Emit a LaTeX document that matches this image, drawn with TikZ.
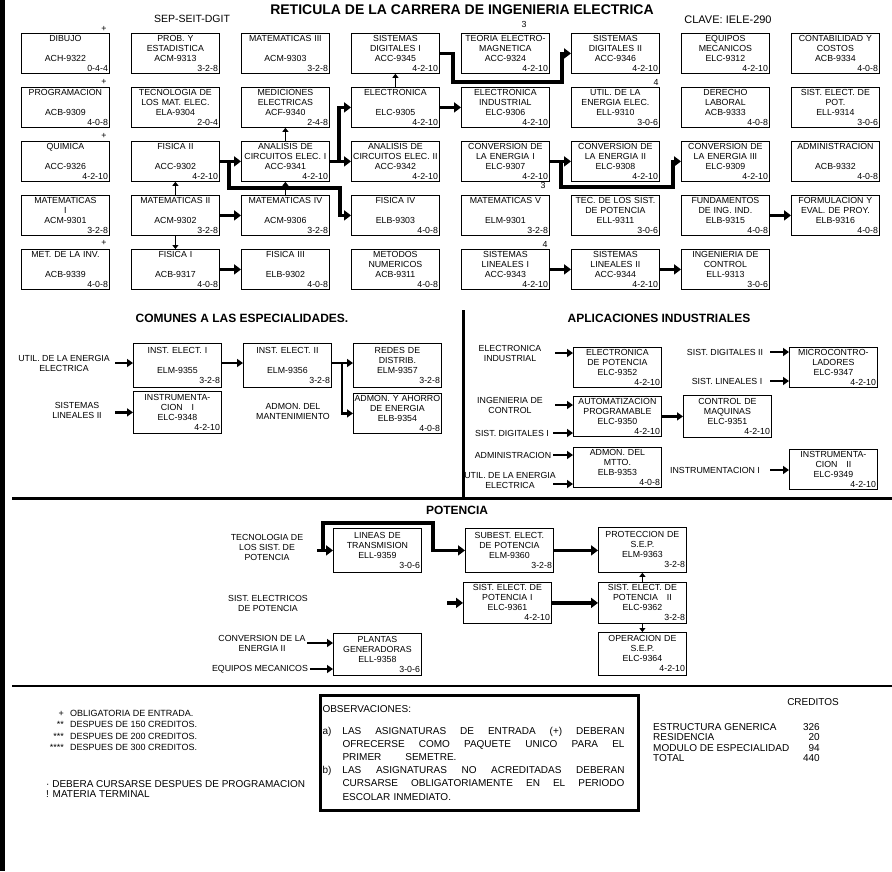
\documentclass[tikz,border=0pt]{standalone}
\usepackage{fontspec}
\setmainfont{Liberation Sans}
\usetikzlibrary{arrows.meta}
\newcommand{\crd}[1]{\\\hspace*{\fill}#1}
\newcommand{\spread}[1]{\makebox[282pt][s]{\spaceskip=.28em plus 1fil\relax#1}}

\begin{document}
\begin{tikzpicture}
	[x=1pt, y=-1pt,
	every node/.style={inner sep=0pt, font=\fontsize{8.8}{10}\selectfont},
	subj/.style={draw, line width=0.8pt, anchor=north west, minimum width=88pt, minimum height=40pt, text width=85pt, inner sep=1.5pt, align=center},
	lbl/.style={align=center},
	head/.style={font=\bfseries\fontsize{12}{14}\selectfont},
	fat/.style={line width=3.5pt, -{Triangle[length=7pt,width=10pt]}},
	mid/.style={line width=2.5pt, -{Triangle[length=6pt,width=8pt]}},
	thin/.style={line width=1.5pt, -{Triangle[length=4pt,width=6pt]}},
	rule/.style={line width=3pt}]
	\useasboundingbox (0,0) rectangle (892,871);
	\fill[white] (0,0) rectangle (892,871);
	\fill (0,0) rectangle (5,871);
	% header
	\node[font=\bfseries\fontsize{14}{16}\selectfont] (title) at (462,10) {RETICULA DE LA CARRERA DE INGENIERIA ELECTRICA};
	\node[font=\fontsize{10.5}{12}\selectfont] (sep) at (192,19) {SEP-SEIT-DGIT};
	\node[font=\fontsize{11}{12}\selectfont] (clave) at (728,20) {CLAVE: IELE-290};
	% generic structure
	\node[subj] (dib) at (21,33) {DIBUJO\\[10pt]ACH-9322\crd{0-4-4}};
	\node[subj] (prog) at (21,87) {PROGRAMACION\\[10pt]ACB-9309\crd{4-0-8}};
	\node[subj] (quim) at (21,141) {QUIMICA\\[10pt]ACC-9326\crd{4-2-10}};
	\node[subj] (mat1) at (21,195) {MATEMATICAS\\I\\ACM-9301\crd{3-2-8}};
	\node[subj] (metinv) at (21,249) {MET. DE LA INV.\\[10pt]ACB-9339\crd{4-0-8}};
	\node[subj] (prob) at (131,33) {PROB. Y\\ESTADISTICA\\ACM-9313\crd{3-2-8}};
	\node[subj] (tecmat) at (131,87) {TECNOLOGIA DE\\LOS MAT. ELEC.\\ELA-9304\crd{2-0-4}};
	\node[subj] (fis2) at (131,141) {FISICA II\\[10pt]ACC-9302\crd{4-2-10}};
	\node[subj] (mat2) at (131,195) {MATEMATICAS II\\[10pt]ACM-9302\crd{3-2-8}};
	\node[subj] (fis1) at (131,249) {FISICA I\\[10pt]ACB-9317\crd{4-0-8}};
	\node[subj] (mat3) at (241,33) {MATEMATICAS III\\[10pt]ACM-9303\crd{3-2-8}};
	\node[subj] (medic) at (241,87) {MEDICIONES\\ELECTRICAS\\ACF-9340\crd{2-4-8}};
	\node[subj] (anc1) at (241,141) {ANALISIS DE\\CIRCUITOS ELEC. I\\ACC-9341\crd{4-2-10}};
	\node[subj] (mat4) at (241,195) {MATEMATICAS IV\\[10pt]ACM-9306\crd{3-2-8}};
	\node[subj] (fis3) at (241,249) {FISICA III\\[10pt]ELB-9302\crd{4-0-8}};
	\node[subj] (sd1) at (351,33) {SISTEMAS\\DIGITALES I\\ACC-9345\crd{4-2-10}};
	\node[subj] (elec) at (351,87) {ELECTRONICA\\[10pt]ELC-9305\crd{4-2-10}};
	\node[subj] (anc2) at (351,141) {ANALISIS DE\\CIRCUITOS ELEC. II\\ACC-9342\crd{4-2-10}};
	\node[subj] (fis4) at (351,195) {FISICA IV\\[10pt]ELB-9303\crd{4-0-8}};
	\node[subj] (metnum) at (351,249) {METODOS\\NUMERICOS\\ACB-9311\crd{4-0-8}};
	\node[subj] (teoria) at (461,33) {TEORIA ELECTRO-\\MAGNETICA\\ACC-9324\crd{4-2-10}};
	\node[subj] (elind) at (461,87) {ELECTRONICA\\INDUSTRIAL\\ELC-9306\crd{4-2-10}};
	\node[subj] (conv1) at (461,141) {CONVERSION DE\\LA ENERGIA I\\ELC-9307\crd{4-2-10}};
	\node[subj] (mat5) at (461,195) {MATEMATICAS V\\[10pt]ELM-9301\crd{3-2-8}};
	\node[subj] (sl1) at (461,249) {SISTEMAS\\LINEALES I\\ACC-9343\crd{4-2-10}};
	\node[subj] (sd2) at (571,33) {SISTEMAS\\DIGITALES II\\ACC-9346\crd{4-2-10}};
	\node[subj] (utilee) at (571,87) {UTIL. DE LA\\ENERGIA ELEC.\\ELL-9310\crd{3-0-6}};
	\node[subj] (conv2) at (571,141) {CONVERSION DE\\LA ENERGIA II\\ELC-9308\crd{4-2-10}};
	\node[subj] (tecpot) at (571,195) {TEC. DE LOS SIST.\\DE POTENCIA\\ELL-9311\crd{3-0-6}};
	\node[subj] (sl2) at (571,249) {SISTEMAS\\LINEALES II\\ACC-9344\crd{4-2-10}};
	\node[subj] (eqmec) at (681,33) {EQUIPOS\\MECANICOS\\ELC-9312\crd{4-2-10}};
	\node[subj] (derecho) at (681,87) {DERECHO\\LABORAL\\ACB-9333\crd{4-0-8}};
	\node[subj] (conv3) at (681,141) {CONVERSION DE\\LA ENERGIA III\\ELC-9309\crd{4-2-10}};
	\node[subj] (fund) at (681,195) {FUNDAMENTOS\\DE ING. IND.\\ELB-9315\crd{4-0-8}};
	\node[subj] (ingctl) at (681,249) {INGENIERIA DE\\CONTROL\\ELL-9313\crd{3-0-6}};
	\node[subj] (contab) at (791,33) {CONTABILIDAD Y\\COSTOS\\ACB-9334\crd{4-0-8}};
	\node[subj] (sepot) at (791,87) {SIST. ELECT. DE\\POT.\\ELL-9314\crd{3-0-6}};
	\node[subj] (admin) at (791,141) {ADMINISTRACION\\[10pt]ACB-9332\crd{4-0-8}};
	\node[subj] (formul) at (791,195) {FORMULACION Y\\EVAL. DE PROY.\\ELB-9316\crd{4-0-8}};
	% marks
	\node (m1) at (104,29) {+};
	\node (m2) at (104,82) {+};
	\node (m3) at (104,136) {+};
	\node (m4) at (104,243) {+};
	\node (m5) at (524,24) {3};
	\node (m6) at (656,82) {4};
	\node (m7) at (543,185) {3};
	\node (m8) at (545,244) {4};
	% prerequisites
	\draw[fat] (sd1.east) -- ++(13,0) |- (562,82) |- (sd2.west);
	\draw[fat] (elec.east) -- (elind.west);
	\draw[thin] (elec.north) -- (sd1.south);
	\draw[thin] (anc1.north) -- (medic.south);
	\draw[thin] (mat4.north) -- (anc1.south);
	\draw[fat] (fis2.east) -- (anc1.west);
	\draw[fat] (fis2.east) -- ++(9,0) |- (340,188) |- (fis4.west);
	\draw[fat] (anc1.east) -- (anc2.west);
	\draw[fat] (anc1.east) -- ++(9,0) |- (elec.west);
	\draw[thin] (mat2.north) -- (fis2.south);
	\draw[thin] (mat2.south) -- (fis1.north);
	\draw[fat] (mat2.east) -- (mat4.west);
	\draw[fat] (fis1.east) -- (fis3.west);
	\draw[fat] (conv1.east) -- (conv2.west);
	\draw[fat] (conv1.east) -- ++(11,0) |- (673,187) |- (conv3.west);
	\draw[fat] (fund.east) -- (formul.west);
	\draw[fat] (sl1.east) -- (sl2.west);
	\draw[fat] (sl2.east) -- (ingctl.west);
	% comunes
	\node[head] (tcom) at (242,318) {COMUNES A LAS ESPECIALIDADES.};
	\node[subj, minimum height=44pt] (inst1) at (133,343) {INST. ELECT. I\\[10pt]ELM-9355\crd{3-2-8}};
	\node[subj, minimum height=44pt] (inst2) at (243,343) {INST. ELECT. II\\[10pt]ELM-9356\crd{3-2-8}};
	\node[subj, minimum height=44pt] (redes) at (353,343) {REDES DE\\DISTRIB.\\ELM-9357\crd{3-2-8}};
	\node[subj, minimum height=42pt] (instr1) at (133,391) {INSTRUMENTA-\\CION\quad I\\ELC-9348\crd{4-2-10}};
	\node[subj] (ahorro) at (353,393) {\makebox[85pt][c]{ADMON. Y AHORRO}\\DE ENERGIA\\ELB-9354\crd{4-0-8}};
	\node[lbl] (lutil1) at (64,363) {UTIL. DE LA ENERGIA\\ELECTRICA};
	\node[lbl] (lsl2) at (77,410) {SISTEMAS\\LINEALES II};
	\node[lbl] (admant) at (293,411) {ADMON. DEL\\MANTENIMIENTO};
	\draw[mid] (inst1.west |- lutil1) ++(-18,0) -- (inst1.west |- lutil1);
	\draw[mid] (instr1.west) ++(-18,0) -- (instr1.west);
	\draw[mid] (inst1.east |- lutil1) -- (inst2.west |- lutil1);
	\draw[mid] (inst2.east |- lutil1) -- (redes.west |- lutil1);
	\draw[mid] (inst2.east |- lutil1) -- ++(10,0) |- (ahorro.west);
	% aplicaciones industriales
	\draw[rule] (463,310) -- (463,497);
	\node[head] (tapl) at (659,318) {APLICACIONES INDUSTRIALES};
	\node[subj] (epot) at (573,347) {ELECTRONICA\\DE POTENCIA\\ELC-9352\crd{4-2-10}};
	\node[subj] (micro) at (789,347) {MICROCONTRO-\\LADORES\\ELC-9347\crd{4-2-10}};
	\node[subj] (autom) at (573,396) {AUTOMATIZACION\\PROGRAMABLE\\ELC-9350\crd{4-2-10}};
	\node[subj, minimum height=42pt] (ctlmaq) at (683,395) {CONTROL DE\\MAQUINAS\\ELC-9351\crd{4-2-10}};
	\node[subj] (admtto) at (573,447) {ADMON. DEL\\MTTO.\\ELB-9353\crd{4-0-8}};
	\node[subj] (instr2) at (789,449) {INSTRUMENTA-\\CION\quad II\\ELC-9349\crd{4-2-10}};
	\node[lbl] (lelind) at (510,353) {ELECTRONICA\\INDUSTRIAL};
	\node[lbl] (lsd2) at (725,352) {SIST. DIGITALES II};
	\node[lbl] (lsl1) at (727,381) {SIST. LINEALES I};
	\node[lbl] (lictl) at (510,405) {INGENIERIA DE\\CONTROL};
	\node[lbl] (lsd1) at (512,433) {SIST. DIGITALES I};
	\node[lbl] (ladmin) at (513,455) {ADMINISTRACION};
	\node[lbl] (lutil2) at (510,480) {UTIL. DE LA ENERGIA\\ELECTRICA};
	\node[lbl] (linst1) at (715,470) {INSTRUMENTACION I};
	\coordinate (cutil) at (553,484);
	\draw[mid] (epot.west |- lelind) ++(-18,0) -- (epot.west |- lelind);
	\draw[mid] (micro.west |- lsd2) ++(-19,0) -- (micro.west |- lsd2);
	\draw[mid] (micro.west |- lsl1) ++(-19,0) -- (micro.west |- lsl1);
	\draw[mid] (autom.west |- lictl) ++(-18,0) -- (autom.west |- lictl);
	\draw[mid] (autom.west |- lsd1) ++(-20,0) -- (autom.west |- lsd1);
	\draw[mid] (autom.east) -- (ctlmaq.west);
	\draw[mid] (admtto.west |- ladmin) ++(-20,0) -- (admtto.west |- ladmin);
	\draw[mid] (cutil) -- (cutil -| admtto.west);
	\draw[mid] (instr2.west |- linst1) ++(-19,0) -- (instr2.west |- linst1);
	\draw[rule] (12,498) -- (892,498);
	% potencia
	\node[head] (tpot) at (457,510) {POTENCIA};
	\node[subj, minimum height=44pt] (lineas) at (333,528) {LINEAS DE\\TRANSMISION\\ELL-9359\crd{3-0-6}};
	\node[subj, minimum height=44pt] (subest) at (465,528) {SUBEST. ELECT.\\DE POTENCIA\\ELM-9360\crd{3-2-8}};
	\node[subj, minimum height=45pt] (protec) at (598,527) {PROTECCION DE\\S.E.P.\\ELM-9363\crd{3-2-8}};
	\node[subj, minimum height=41pt] (sep1) at (463,582) {SIST. ELECT. DE\\POTENCIA I\\ELC-9361\crd{4-2-10}};
	\node[subj, minimum height=41pt] (sep2) at (598,582) {SIST. ELECT. DE\\POTENCIA\quad II\\ELC-9362\crd{3-2-8}};
	\node[subj, minimum height=43pt] (operac) at (598,632) {OPERACION DE\\S.E.P.\\ELC-9364\crd{4-2-10}};
	\node[subj, minimum height=42pt] (plantas) at (333,633) {PLANTAS\\GENERADORAS\\ELL-9358\crd{3-0-6}};
	\node[lbl] (ltec) at (267,547) {TECNOLOGIA DE\\LOS SIST. DE\\POTENCIA};
	\node[lbl] (lsep) at (268,603) {SIST. ELECTRICOS\\DE POTENCIA};
	\node[lbl] (lconv) at (262,643) {CONVERSION DE LA\\ENERGIA II};
	\node[lbl] (leqm) at (260,669) {EQUIPOS MECANICOS};
	\draw[fat] (lineas.west) ++(-16,0) -- (lineas.west);
	\draw[fat] (lineas.west) ++(-10,0) |- (433,523) |- (subest.west);
	\draw[fat] (subest.east) -- (subest.east -| protec.west);
	\draw[fat] (sep1.west) ++(-16,0) -- (sep1.west);
	\draw[fat] (sep1.east) -- (sep2.west);
	\draw[thin] (sep2.north) -- (protec.south);
	\draw[thin] (sep2.south) -- (operac.north);
	\draw[mid] (plantas.west |- lconv) ++(-26,0) -- (plantas.west |- lconv);
	\draw[mid] (plantas.west |- leqm) ++(-23,0) -- (plantas.west |- leqm);
	\draw[line width=2.5pt] (12,686) -- (892,686);
	% notes
	\node[anchor=north east, align=right, font=\fontsize{9}{11.5}\selectfont] (keys) at (64,708) {\strut+\\**\\***\\****};
	\node[anchor=north west, align=left, font=\fontsize{9}{11.5}\selectfont] (notes) at (70,708) {\strut OBLIGATORIA DE ENTRADA.\\DESPUES DE 150 CREDITOS.\\DESPUES DE 200 CREDITOS.\\DESPUES DE 300 CREDITOS.};
	\node[anchor=north west, align=left, font=\fontsize{10}{10}\selectfont] (notes2) at (46,780) {\strut· DEBERA CURSARSE DESPUES DE PROGRAMACION\\! MATERIA TERMINAL};
	\node[draw, line width=3pt, anchor=north west, minimum width=318pt, minimum height=115pt, text width=314pt, inner xsep=2pt, align=left, font=\fontsize{10}{13.2}\selectfont] (obs) at (319,694)
	{OBSERVACIONES:\\[8pt]
	\makebox[20pt][l]{a)}\spread{LAS ASIGNATURAS DE ENTRADA (+) DEBERAN}\\
	\hspace*{20pt}\spread{OFRECERSE COMO PAQUETE UNICO PARA EL}\\
	\hspace*{20pt}PRIMER\hspace{24pt}SEMETRE.\\
	\makebox[20pt][l]{b)}\spread{LAS ASIGNATURAS NO ACREDITADAS DEBERAN}\\
	\hspace*{20pt}\spread{CURSARSE OBLIGATORIAMENTE EN EL PERIODO}\\
	\hspace*{20pt}ESCOLAR INMEDIATO.};
	% creditos
	\node[font=\fontsize{10}{12}\selectfont] (tcred) at (813,702) {CREDITOS};
	\node[anchor=north west, align=left, font=\fontsize{10}{10.4}\selectfont] (credl) at (653,723) {\strut ESTRUCTURA GENERICA\\RESIDENCIA\\MODULO DE ESPECIALIDAD\\TOTAL};
	\node[anchor=north east, align=right, font=\fontsize{10}{10.4}\selectfont] (credn) at (820,723) {\strut 326\\20\\94\\440};
\end{tikzpicture}
\end{document}
